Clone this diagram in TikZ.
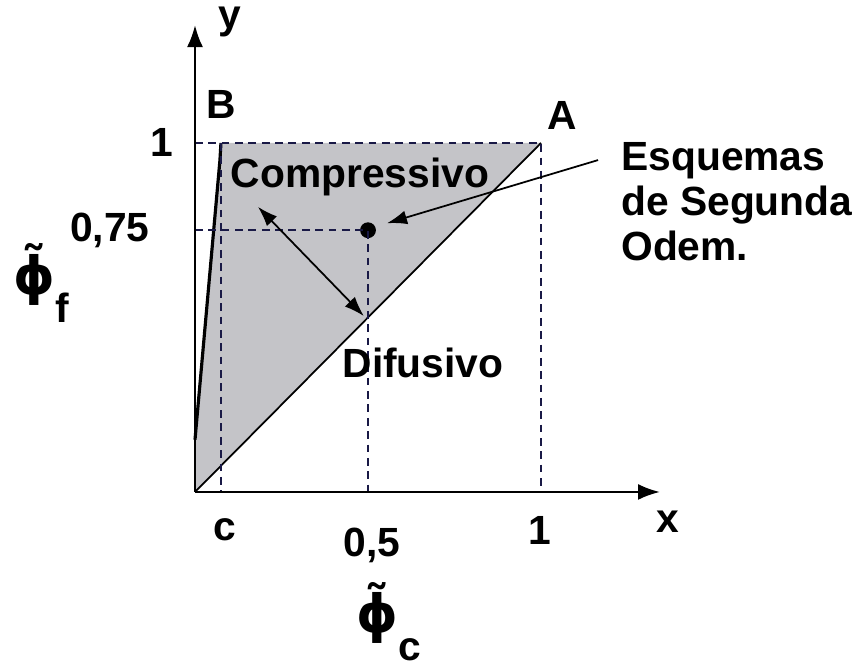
\documentclass[tikz,border=0pt]{standalone}
\usepackage{fontspec}
\setmainfont{Liberation Sans}
\newfontfamily\phifont{DejaVu Sans}
\usetikzlibrary{arrows.meta}
\definecolor{regiongray}{RGB}{196,196,200}
\definecolor{dashblue}{RGB}{25,25,70}
\tikzset{
  axis/.style={-{Latex[length=2.2mm,width=1.6mm]}, line width=0.7pt},
  guide/.style={draw=dashblue, line width=0.7pt, dash pattern=on 2.2pt off 1.6pt},
  lbl/.style={font=\fontsize{11.6}{12.8}\selectfont\bfseries, inner sep=1pt},
  phil/.style={font=\fontsize{15}{15}\selectfont\bfseries, inner sep=1pt},
  pointer/.style={-{Latex[length=2mm,width=1.4mm]}, line width=0.5pt},
  dblpointer/.style={{Latex[length=2mm,width=1.4mm]}-{Latex[length=2mm,width=1.4mm]}, line width=0.5pt},
  dot/.style={circle, fill=black, inner sep=0pt, minimum size=4.5pt}
}
\newcommand{\phisub}[1]{{\phifont ϕ̃}\raisebox{-8pt}{\fontsize{11.6}{11.6}\selectfont #1}}
\begin{document}
\begin{tikzpicture}[x=3.46cm, y=3.49cm]
  \useasboundingbox (-0.5636,-0.5043) rectangle (1.9046,1.4097);

  % Key points
  \coordinate (O) at (0,0);
  \coordinate (A) at (1,1);
  \coordinate (B) at (0.075,1);
  \coordinate (xend) at (1.344,0);
  \coordinate (yend) at (0,1.338);

  % Shaded region
  \fill[regiongray] (O) -- (0,0.15) -- (0.072,0.95) -- (B) -- (A) -- cycle;
  \draw[line width=0.9pt] (0,0.15) -- (0.072,0.95) -- (B);
  \draw[line width=0.5pt] (O) -- (A);

  % Dashed guides
  \node[dot] (P) at (0.5,0.75) {};
  \draw[guide] (0,1) -- (A) -- (1,0);
  \draw[guide] (B) -- (0.075,0);
  \draw[guide] (0,0.75) -- (P.center) -- (0.5,0);

  % Axes
  \draw[axis] (O) -- (xend);
  \draw[axis] (O) -- (yend);

  % Axis labels
  \node[lbl] (ylbl) at (0.101,1.347) {y};
  \node[lbl] (xlbl) at (1.367,-0.086) {x};
  \node[lbl] (blbl) at (0.075,1.109) {B};
  \node[lbl] (albl) at (1.061,1.080) {A};
  \node[lbl] (y1) at (-0.095,1.0) {1};
  \node[lbl] (y075) at (-0.246,0.75) {0,75};
  \node[lbl] (xc) at (0.087,-0.109) {c};
  \node[lbl] (x05) at (0.512,-0.152) {0,5};
  \node[lbl] (x1) at (0.997,-0.109) {1};
  \node[phil] (phif) at (-0.445,0.599) {\phisub{f}};
  \node[phil] (phic) at (0.56,-0.372) {\phisub{c}};

  % Region labels
  \node[lbl] (comp) at (0.477,0.903) {Compressivo};
  \node[lbl] (difu) at (0.659,0.370) {Difusivo};
  \node[lbl, anchor=west, align=left] (esq) at (1.220,0.831) {Esquemas\\de Segunda\\Odem.};

  % Pointers
  \coordinate (cmptip) at (0.182,0.817);
  \coordinate (diagtip) at (0.488,0.504);
  \coordinate (esqtail) at (1.165,0.951);
  \draw[dblpointer] (cmptip) -- (diagtip);
  \draw[pointer] (esqtail) -- ([shift={(0.055,0.02)}]P.center);
\end{tikzpicture}
\end{document}
